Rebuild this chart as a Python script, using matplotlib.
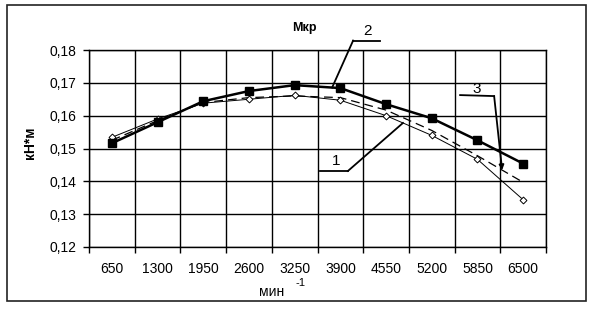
import numpy as np
import matplotlib
matplotlib.use("Agg")
import matplotlib.pyplot as plt
from matplotlib.patches import Rectangle

plt.rcParams['font.family'] = ['Liberation Sans', 'DejaVu Sans']

# обороты, мин^-1
rpm = ['650', '1300', '1950', '2600', '3250', '3900', '4550', '5200', '5850', '6500']
# крутящий момент, кН*м
m1 = [0.1534, 0.1590, 0.1638, 0.1650, 0.1662, 0.1647, 0.1600, 0.1540, 0.1467, 0.1344]
m2 = [0.1516, 0.1580, 0.1644, 0.1675, 0.1693, 0.1684, 0.1635, 0.1592, 0.1525, 0.1454]
m3 = [0.1525, 0.1585, 0.1640, 0.1655, 0.1660, 0.1655, 0.1617, 0.1555, 0.1478, 0.1397]
yticks = [0.12, 0.13, 0.14, 0.15, 0.16, 0.17, 0.18]

W, H = 594, 312
fig = plt.figure(figsize=(W / 100, H / 100), dpi=100)
fig.patches.append(Rectangle((7 / W, 1 - 301 / H), 579 / W, 296 / H,
                             transform=fig.transFigure, fill=False,
                             edgecolor='#222222', lw=1.2))
ax = fig.add_axes([89 / W, 1 - 247 / H, 457 / W, 197 / H])

x = np.arange(len(rpm))
ax.plot(x, m3, color='black', lw=0.9, ls=(0, (7, 4)))
ax.plot(x, m1, color='black', lw=0.7, marker='D', ms=3.5, mfc='white', mec='black', mew=0.7)
ax.plot(x, m2, color='black', lw=1.8, marker='s', ms=5.5, mfc='black', mec='black')

ax.set_xlim(-0.5, len(rpm) - 0.5)
ax.set_ylim(0.12, 0.18)
ax.set_xticks(x)
ax.set_xticklabels(rpm, fontsize=10)
ax.set_xticks(np.arange(-0.5, len(rpm)), minor=True)
ax.tick_params(axis='x', which='major', length=0, pad=11)
ax.tick_params(axis='x', which='minor', length=4, width=1, direction='out')
ax.set_yticks(yticks)
ax.set_yticklabels([('%.2f' % v).replace('.', ',') for v in yticks], fontsize=10)
ax.tick_params(axis='y', length=4, width=1, pad=5)
ax.grid(True, axis='y', which='major', color='black', lw=1)
ax.grid(True, axis='x', which='minor', color='black', lw=1)
for s in ax.spines.values():
    s.set_color('black')
    s.set_linewidth(1)

fig.text(304 / W, 1 - 28 / H, 'Мкр', fontsize=9, fontweight='bold', ha='center', va='center')
fig.text(30 / W, 1 - 143 / H, 'кН*м', fontsize=10, fontweight='bold', rotation=90,
         ha='center', va='center')
fig.text(272 / W, 1 - 292 / H, 'мин', fontsize=10, ha='center', va='center')
fig.text(301 / W, 1 - 283 / H, '-1', fontsize=8, ha='center', va='center')

# выноски с номерами кривых
def leader(series, xi, label, elbow, end, txt, arrow=False):
    tip = (xi, np.interp(xi, x, series))
    tp = ax.transData.transform(tip)
    to_data = ax.transData.inverted()
    e = to_data.transform(tp + np.array(elbow))
    b = to_data.transform(tp + np.array(end))
    t = to_data.transform(tp + np.array(txt))
    ax.plot([b[0], e[0]], [b[1], e[1]], color='black', lw=1.3, clip_on=False)
    if arrow:
        ax.annotate('', xy=tip, xytext=e,
                    arrowprops=dict(arrowstyle='-|>', color='black', lw=1.3,
                                    mutation_scale=7, shrinkA=0, shrinkB=0))
    else:
        ax.plot([e[0], tip[0]], [e[1], tip[1]], color='black', lw=1.3, clip_on=False)
    ax.text(t[0], t[1], label, fontsize=11, ha='center', va='center', clip_on=False)

fig.canvas.draw()
leader(m2, 4.82, '2', (21, 47), (48, 47), (35, 57))
leader(m3, 8.54, '3', (-8, 74), (-42, 75), (-25, 81), arrow=True)
leader(m1, 6.37, '1', (-55, -48), (-83, -48), (-67, -38))

fig.savefig('out.png', dpi=100)
